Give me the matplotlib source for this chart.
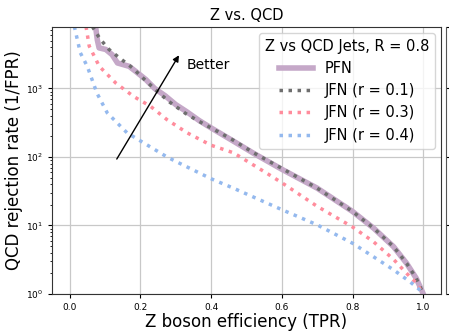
import numpy as np
import matplotlib
matplotlib.use("Agg")
import matplotlib.pyplot as plt

# ROC curves: signal efficiency (TPR) vs background rejection (1/FPR)
pfn_tpr = [0.073, 0.078, 0.083, 0.102, 0.12, 0.135, 0.168, 0.186, 0.215, 0.24, 0.27, 0.30,
           0.33, 0.366, 0.40, 0.463, 0.52, 0.60, 0.70, 0.80, 0.86, 0.916, 0.953, 0.98, 0.995, 1.0]
pfn_rej = [8000, 5100, 3900, 3700, 3100, 2350, 2100, 1780, 1350, 1000, 780, 580,
           460, 340, 265, 170, 113, 66, 35, 16, 9.1, 4.9, 2.8, 1.7, 1.15, 1.0]

jfn1_tpr = [0.064, 0.076, 0.088, 0.111, 0.14, 0.177, 0.205, 0.243, 0.281, 0.328, 0.366, 0.40,
            0.463, 0.52, 0.60, 0.70, 0.80, 0.86, 0.916, 0.953, 0.98, 0.995, 1.0]
jfn1_rej = [8000, 6300, 5100, 3700, 2800, 2000, 1450, 950, 640, 430, 330, 265,
            175, 115, 68, 35, 16, 9.1, 4.9, 2.8, 1.7, 1.15, 1.0]

jfn3_tpr = [0.046, 0.055, 0.0835, 0.13, 0.181, 0.228, 0.275, 0.332, 0.40, 0.463, 0.557, 0.60,
            0.70, 0.80, 0.859, 0.916, 0.953, 0.98, 1.0]
jfn3_rej = [8000, 4150, 2100, 1200, 760, 550, 350, 225, 148, 115, 58, 42,
            19, 9.5, 5.8, 3.2, 2.0, 1.45, 1.0]

jfn4_tpr = [0.013, 0.03, 0.0495, 0.077, 0.106, 0.162, 0.228, 0.275, 0.30, 0.40, 0.463, 0.60,
            0.70, 0.80, 0.859, 0.916, 0.963, 0.99, 1.0]
jfn4_rej = [8000, 3300, 2100, 850, 440, 225, 140, 100, 86, 48, 35, 17,
            10.2, 5.5, 3.5, 2.25, 1.5, 1.15, 1.0]

fig = plt.figure(figsize=(4.49, 3.32), dpi=100)
ax = fig.add_axes([0.116, 0.1145, 0.866, 0.8045])

dots = (0, (1, 1.6))
ax.plot(pfn_tpr, pfn_rej, color='#c5a8c8', lw=4, label='PFN')
ax.plot(jfn1_tpr, jfn1_rej, color='#6e6e6e', lw=2.5, ls=dots, label='JFN (r = 0.1)')
ax.plot(jfn3_tpr, jfn3_rej, color='#ff8c9c', lw=2.5, ls=dots, label='JFN (r = 0.3)')
ax.plot(jfn4_tpr, jfn4_rej, color='#94b9ee', lw=2.5, ls=dots, label='JFN (r = 0.4)')

ax.set_yscale('log')
ax.set_xlim(-0.05, 1.05)
ax.set_ylim(1, 7900)
ax.grid(True, color='#c8c8c8', lw=0.9)
ax.set_axisbelow(True)
ax.tick_params(labelsize=6.5, length=3)
ax.tick_params(which='minor', length=1.8)
for s in ax.spines.values():
    s.set_color('#333333')

ax.set_title('Z vs. QCD', fontsize=10.5, pad=5)
ax.set_xlabel('Z boson efficiency (TPR)', fontsize=12, labelpad=1)
ax.set_ylabel('QCD rejection rate (1/FPR)', fontsize=12, labelpad=2)

ax.annotate('', xy=(0.313, 3300), xytext=(0.129, 86),
            arrowprops=dict(arrowstyle='-|>', color='k', lw=1, mutation_scale=9))
ax.text(0.33, 2200, 'Better', fontsize=10, va='center')

leg = ax.legend(title='Z vs QCD Jets, R = 0.8', fontsize=10.5, title_fontsize=10.5,
                loc='upper right', handlelength=2.3, labelspacing=0.5,
                borderaxespad=0.4)

# edge of the neighbouring panel
ax2 = fig.add_axes([0.994, 0.1145, 0.5, 0.8045])
ax2.set_yscale('log')
ax2.set_ylim(1, 7900)
ax2.set_xticks([])
ax2.set_yticks([1, 10, 100, 1000, 7800])
ax2.yaxis.set_minor_locator(matplotlib.ticker.NullLocator())
ax2.tick_params(direction='in', length=3, labelleft=False)
for name in ['top', 'right', 'bottom']:
    ax2.spines[name].set_visible(False)
ax2.spines['left'].set_color('#555555')

fig.savefig('out.png', dpi=100)
